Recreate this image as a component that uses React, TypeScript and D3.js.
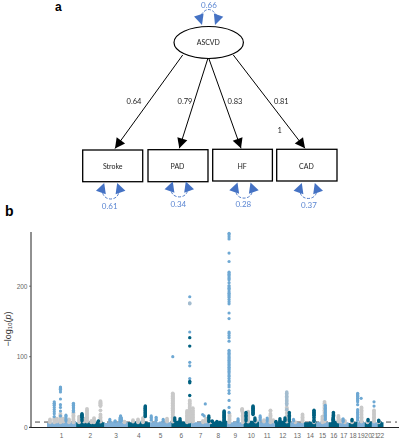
import React from "react";
import * as d3 from "d3";

const chromosomes = ["1","2","3","4","5","6","7","8","9","10","11","12","13","14","15","16","17","18","19","20","21","22"];
const chromLengths = [249,243,198,191,181,171,159,146,141,135,135,133,115,107,102,90,81,78,59,63,48,51];
const bandTops: number[][] = [
  [6,7,7,8,7,8,7,8],[7,8,9,8,7,8,8,7],[6,7,8,7,8,7,7],[7,8,8,7,9,8,7],[7,8,7,8,7,8,7],[8,9,9,8,8,7,8],
  [6,7,7,8,7,7],[7,8,7,9,8,9],[7,7,8,7,7],[7,8,9,8,8],[7,8,8,9,7],[7,8,9,8,8],
  [7,8,7,6,7],[7,7,8,7,8],[7,8,8,7],[7,8,9,8],[8,7,8,7],[6,7,7,8],[7,8,7],[7,7,8],[7,8,7],[7,8,7],
];
type Peak = [number, number, number[]];
const grayPeaks: Peak[] = [
  [1,26,[11,9,7]],[1,62,[13,11,9,7]],[1,85,[12,10,8]],[1,115,[19,17,15,13,11,9,7]],[1,140,[12,10,8]],[1,188,[11,9,7]],[1,226,[21,19,17,15,13,11,9,7]],
  [2,25,[15,13,11,9,7]],[2,93,[26,24,22,20,18,16,14,12,10,8]],[2,68,[12,10,8]],[2,153,[13,11,9,7]],[2,130,[9,7]],[2,208,[37,36,35,34,33,32,31,30,24,18,16,14,12,10,8]],
  [3,170,[8,7]],[4,45,[10,8]],[4,88,[11,9,7]],[4,130,[13,11,9,7]],[5,145,[12,10,8]],
  [6,13,[48,47,46,45,44,43,42,41,40,39,38,37,36,35,34,33,32,31,30,29,28,27,26,25,24,23,22,21,20,18,16,14,12,10,8]],
  [6,135,[23,21,19,17,15,13,11,9,7]],[6,158,[38,36,34,32,30,28,26,24,22,20,18,16,14,12,10,8]],[6,185,[27,24,22,20,18,16,14,12,10,8]],
  [7,100,[9,7]],[7,125,[12,10,8]],[8,5,[7]],[9,22,[19,17,15,13,11,9,7]],[9,130,[26,25,24,23]],[9,135,[21,19,17,15,13,11,9,7]],
  [10,40,[22,20,18,16,14,12,10,8]],[10,105,[10,8]],[11,40,[10,8]],[11,96,[24,23,19,17,15,13,11,9,7]],[11,120,[10,8]],
  [12,100,[28,26,24,20,16,14,12,10,8]],[13,40,[7]],[13,102,[18,16,14,12,10,8]],[14,85,[9,7]],
  [15,50,[15,13,11,9,7]],[15,68,[36,34,32,30,28,26,24,22,20,18,16,14,12,10,8]],[16,85,[16,14,12,10,8]],[17,20,[10,8]],[17,50,[9,7]],
  [18,30,[8,7]],[19,33,[28,26,24,22,20,18,16,14,12,10,8]],[20,25,[8,7]],[21,18,[24,22,20,18,16,14,12,10,8]],[22,10,[9,7]],
];
const lightPeaks: Peak[] = [
  [1,62,[36,34,33,31,28,25,22,19,15]],[1,115,[57,56,55,54,53,50,40,32,28,23,16]],[1,162,[17,15,13,11,9]],[1,226,[34,33,32,31,30,28,26,24,22]],
  [3,45,[11,9]],[3,90,[9,8]],[3,132,[13,11,9]],[3,137,[16,15,14,12,10,8]],[3,144,[13,11,9]],[5,10,[16,14,12,10]],[5,52,[14,12,10]],[5,112,[11,9]],
  [6,13,[100]],[6,158,[185,135,92,87,69]],
  [7,120,[33]],[7,97,[18]],[7,110,[16]],[9,95,[12,10,8]],
  [9,18,[275,273,270,267,247,235,220,219,217,215,213,211,209,205,201,199,197,195,192,190,188,186,184,181,178,175,162,154,135,133,130,127,122,109,107,105,103,101,99,97,95,93,91,89,87,85,83,81,79,77,74,72,69,66,64,60,57,52,48,38,28,21]],
  [11,8,[16,14,12,10]],[11,68,[13,11,9]],[13,25,[11,9]],[15,75,[31,29,27,25,23,21,19,17,15,13,11]],
  [17,35,[12,10,8]],[19,0,[48,47,46,45,44,43,41,40,38,36,32,25,23,21,20,18,16,14,12,10]],[19,30,[41]],[21,18,[36,30]],
];
const mixedPeaks: Peak[] = [
  [12,100,[50,48,46,44,42,40,38,36,34,32,25]],[6,158,[176,175]],
];
const darkPeaks: Peak[] = [
  [2,50,[19,18,17,16,15,14,13,11,9]],[4,150,[30,29,28,27,26,25,24,23,22,21,20,19,18,17,16,15]],[2,190,[9,8]],
  [6,30,[13,11,9]],[6,75,[12,10,8]],[6,158,[127,115,65,63,45]],[8,20,[9,8]],[8,60,[8,7]],
  [8,122,[23,22,21,20,19,18,17,16,15,14,13,12,11,10,9,8]],[7,150,[16,14,12,10,8]],
  [10,22,[21,19,17,15,13,11,9]],[10,82,[30,29,28,27,26,25,24,23,22,21,20,19,18]],[10,98,[13,11,9]],
  [12,8,[8,7]],[12,42,[12,10,8]],[12,85,[13,11,9]],[12,122,[21,19,17,15,13,11,9]],
  [14,85,[24,23,22,21,20,19,18,17,16,14,12,10,8]],[16,42,[21,20,19,18,17,16,15,13,11,9]],[16,38,[13,11,9]],
  [18,30,[11,9]],[20,30,[11,9]],[22,10,[10,8]],
];
const yTicks = [0,100,200];
const pathLoadings = [
  { name: "Stroke", x: 82.7, y: 150, w: 60, h: 31.7, load: "0.64", lx: 134, ly: 101.7, tip: [115,148.5], from: [182.7,55] },
  { name: "PAD", x: 148, y: 149.7, w: 60, h: 32, load: "0.79", lx: 185, ly: 101, tip: [179.3,148.3], from: [207.7,59] },
  { name: "HF", x: 212.7, y: 149.3, w: 59.7, h: 31.7, load: "0.83", lx: 235, ly: 101, tip: [241,148.3], from: [209,59] },
  { name: "CAD", x: 276.7, y: 149.3, w: 60.3, h: 31.7, load: "0.81", lx: 281.3, ly: 101.7, tip: [305,148.3], from: [233.3,55] },
];
const residuals = [
  { label: "0.61", cx: 110.7, tipY: 184, arc: 200, tx: 109.7, ty: 206 },
  { label: "0.34", cx: 179.3, tipY: 182.5, arc: 197.7, tx: 178.3, ty: 203.7 },
  { label: "0.28", cx: 244, tipY: 183.5, arc: 199, tx: 243.3, ty: 203.7 },
  { label: "0.37", cx: 308.3, tipY: 184, arc: 199.3, tx: 309, ty: 205 },
];
const LIGHT = "#6ea8d3", BAND = "#7fb0d8", DARK = "#006080", GRAY = "#c9c9c9", MIXED = "#a3bccf", BLUE = "#4472c4", LBL = "#5b86d2";
const FONT = "Lato, 'Open Sans', sans-serif";

function arrowHead(tip: number[], from: number[], len: number, hw: number) {
  const a = Math.atan2(tip[1]-from[1], tip[0]-from[0]);
  const bx = tip[0]-len*Math.cos(a), by = tip[1]-len*Math.sin(a);
  const nx = -Math.sin(a)*hw, ny = Math.cos(a)*hw;
  return `${tip[0]},${tip[1]} ${bx+nx},${by+ny} ${bx-nx},${by-ny}`;
}

export default function App() {
  const cum = d3.cumsum(chromLengths);
  const total = cum[cum.length-1];
  const x = d3.scaleLinear().domain([0,total]).range([47,383.5]);
  const y = d3.scaleLinear().domain([0,276]).range([427.2,232.6]);
  const gx = (c:number, p:number) => x((c>1?cum[c-2]:0)+p);
  const area = d3.area<[number,number]>().x(d=>x(d[0])).y0(y(0)).y1(d=>y(d[1])).curve(d3.curveStepAfter);
  const drawPeaks = (peaks: Peak[], fill: string, r: number) => peaks.flatMap((p,i)=>p[2].map((v,j)=>(
    <circle key={`${fill}${i}-${j}`} cx={gx(p[0],p[1])} cy={y(v)} r={r} fill={fill}/>
  )));
  return (
    <svg width={400} height={440} style={{position:"absolute",left:0,top:0,background:"#fff"}}>
      <defs>
        <filter id="soft" x="-5%" y="-5%" width="110%" height="110%"><feGaussianBlur stdDeviation="0.45"/></filter>
        <filter id="softText" x="-10%" y="-10%" width="120%" height="120%"><feGaussianBlur stdDeviation="0.25"/></filter>
      </defs>
      <text x={55} y={11} fontFamily="'Liberation Sans'" fontWeight="bold" fontSize={12}>a</text>
      <text x={5} y={216} fontFamily="'Liberation Sans'" fontWeight="bold" fontSize={14}>b</text>

      <g filter="url(#soft)">
        <ellipse cx={208.7} cy={42.5} rx={34.7} ry={16} fill="#fff" stroke="#000" strokeWidth={1.2}/>
        {pathLoadings.map(n=>(
          <g key={n.name}>
            <rect x={n.x} y={n.y} width={n.w} height={n.h} fill="#fff" stroke="#000" strokeWidth={1.3}/>
            <line x1={n.from[0]} y1={n.from[1]} x2={n.tip[0]} y2={n.tip[1]} stroke="#000" strokeWidth={1}/>
            <polygon points={arrowHead(n.tip,n.from,10,5.2)} fill="#000"/>
          </g>
        ))}
        <path d="M201,15 Q208.5,4 216.5,15" fill="none" stroke={BLUE} strokeWidth={0.9} strokeDasharray="3 1.5"/>
        <polygon points={arrowHead([202,25],[198.5,14],10.5,5)} fill={BLUE}/>
        <polygon points={arrowHead([215,25],[219,14],10.5,5)} fill={BLUE}/>
        {residuals.map(r=>(
          <g key={r.label}>
            <path d={`M${r.cx-8},${r.tipY+9} C${r.cx-6},${r.arc+1} ${r.cx+6},${r.arc+1} ${r.cx+8},${r.tipY+9}`} fill="none" stroke={BLUE} strokeWidth={0.9} strokeDasharray="3 1.5"/>
            <polygon points={arrowHead([r.cx-6.5,r.tipY-1],[r.cx-10,r.tipY+9],10,5.2)} fill={BLUE}/>
            <polygon points={arrowHead([r.cx+6.5,r.tipY-1],[r.cx+10,r.tipY+9],10,5.2)} fill={BLUE}/>
          </g>
        ))}
      </g>
      <g fontFamily={FONT} textAnchor="middle" dominantBaseline="central" filter="url(#softText)">
        <text x={208.3} y={42.3} fontSize={7} fill="#222">ASCVD</text>
        {pathLoadings.map((n,i)=>(
          <g key={n.name}>
            <text x={n.x+n.w/2-(i===0?0:0.5)} y={165.5} fontSize={7} fill="#222">{n.name}</text>
            <text x={n.lx} y={n.ly} fontSize={7.5} fill="#222">{n.load}</text>
          </g>
        ))}
        <text x={279.7} y={130.3} fontSize={7.5} fill="#222">1</text>
        <text x={209} y={5} fontSize={8} fill={LBL}>0.66</text>
        {residuals.map(r=><text key={r.label} x={r.tx} y={r.ty} fontSize={8} fill={LBL}>{r.label}</text>)}
      </g>

      <g filter="url(#soft)">
        <line x1={35} x2={397} y1={y(7.3)} y2={y(7.3)} stroke="#333" strokeWidth={0.9} strokeDasharray="5 4"/>
        {bandTops.map((tops,i)=>{
          const start = i>0?cum[i-1]:0, len = chromLengths[i];
          const pts = [...tops,tops[tops.length-1]].map((t,k)=>[start+len*k/tops.length,t] as [number,number]);
          return <path key={i} d={area(pts)!} fill={i%2===0?BAND:DARK}/>;
        })}
        {drawPeaks(grayPeaks,GRAY,1.9)}
        {drawPeaks(mixedPeaks,MIXED,1.8)}
        {drawPeaks(lightPeaks,LIGHT,1.6)}
        {drawPeaks(darkPeaks,DARK,1.7)}
      </g>

      <line x1={31} x2={31} y1={232} y2={427.5} stroke="#222" strokeWidth={1}/>
      <line x1={29} x2={399} y1={427.5} y2={427.5} stroke="#222" strokeWidth={1}/>
      {yTicks.map(t=>(
        <g key={t}>
          <line x1={29} x2={31} y1={y(t)} y2={y(t)} stroke="#444" strokeWidth={0.7}/>
          <text x={27.5} y={y(t)} textAnchor="end" dominantBaseline="central" fontFamily="'Liberation Sans'" fontSize={6.5} fill="#666">{t}</text>
        </g>
      ))}
      {chromosomes.map((c,i)=>(
        <text key={c} x={x((i>0?cum[i-1]:0)+chromLengths[i]/2)} y={435.5} textAnchor="middle" dominantBaseline="central" fontFamily="'Liberation Sans'" fontSize={6.5} fill="#666">{c}</text>
      ))}
      <text transform="translate(8,329) rotate(-90)" textAnchor="middle" dominantBaseline="central" fontFamily="'Liberation Sans'" fontSize={9} fill="#333">
        −log<tspan fontSize={6} dy={1.5}>10</tspan><tspan dy={-1.5}>(</tspan><tspan fontStyle="italic">p</tspan>)
      </text>
    </svg>
  );
}
